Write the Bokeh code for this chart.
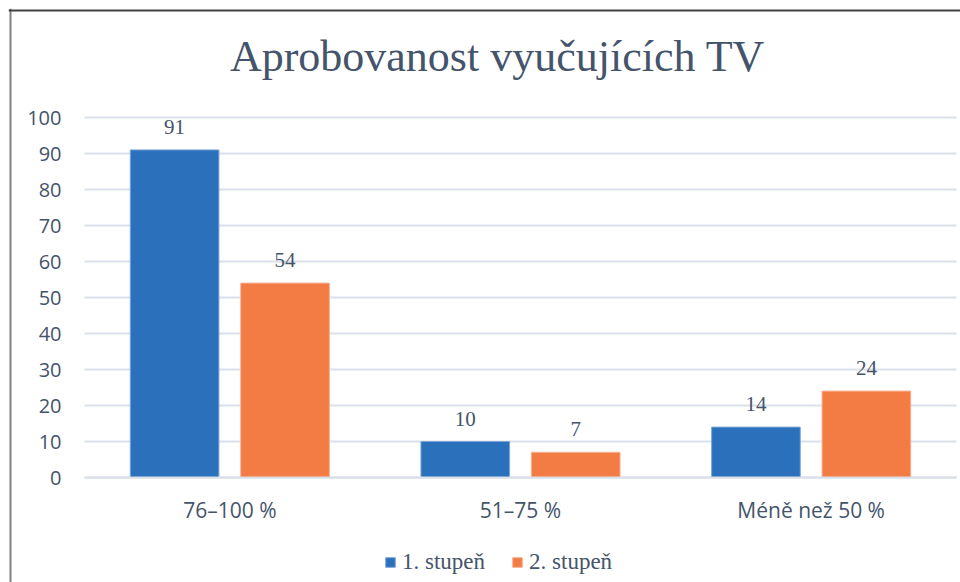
import numpy as np
from bokeh.plotting import figure
from bokeh.models import (ColumnDataSource, Range1d, FixedTicker, LabelSet, Label, Span,
                          Legend, LegendItem)
from bokeh.transform import dodge
from bokeh.core.properties import value
from bokeh.embed import file_html
from bokeh.resources import INLINE

# ---- data ----
title = "Aprobovanost vyučujících TV"
categories = ["76–100 %", "51–75 %", "Méně než 50 %"]
series_names = ["1. stupeň", "2. stupeň"]
stupen1 = [91, 10, 14]
stupen2 = [54, 7, 24]
y_ticks = [0, 10, 20, 30, 40, 50, 60, 70, 80, 90, 100]

# ---- layout constants (pixels) ----
W, H = 960, 582
FRAME_L, FRAME_T = 8, 8
PLOT_L, PLOT_R = 84, 956
Y0_PX, YTOP_PX = 477, 117
YMAX = y_ticks[-1]
n = len(categories)
xs = (PLOT_R - PLOT_L) / n
ys = (Y0_PX - YTOP_PX) / YMAX
px_x = lambda px: (px - PLOT_L) / xs
px_y = lambda py: (Y0_PX - py) / ys

BLUE = "#2a70bb"
ORANGE = "#f37c45"
TXT = "#44546a"
SERIF = "Liberation Serif"
SANS = "Open Sans"
GRID = "#d9e0e7"

pos = np.arange(n) + 0.5
src = ColumnDataSource(dict(x=pos, s1=stupen1, s2=stupen2,
                            l1=[str(v) for v in stupen1], l2=[str(v) for v in stupen2]))

p = figure(width=W, height=H,
           x_range=Range1d(px_x(FRAME_L), px_x(W)), y_range=Range1d(px_y(H), px_y(FRAME_T)),
           output_backend="svg", toolbar_location=None,
           min_border_left=FRAME_L, min_border_top=FRAME_T, min_border_right=0, min_border_bottom=0)

r1 = p.vbar(x=dodge("x", -0.19), top="s1", width=0.305, source=src,
            fill_color=BLUE, line_color="#7fa6d6", line_width=1)
r2 = p.vbar(x=dodge("x", 0.19), top="s2", width=0.305, source=src,
            fill_color=ORANGE, line_color="#f8b090", line_width=1)

for col, lab, off in (("s1", "l1", -0.19), ("s2", "l2", 0.19)):
    p.add_layout(LabelSet(x=dodge("x", off), y=col, text=lab, source=src,
                          text_align="center", text_baseline="alphabetic", y_offset=16,
                          text_font=value(SERIF), text_font_size="21px", text_color=TXT))

p.outline_line_color = None
p.background_fill_color = "white"
p.border_fill_color = "white"
p.xgrid.grid_line_color = None
p.ygrid.ticker = FixedTicker(ticks=y_ticks)
p.ygrid.grid_line_color = GRID
p.ygrid.grid_line_width = 2
if "cross_bounds" in p.ygrid[0].properties():
    p.ygrid.cross_bounds = (0, n)

p.yaxis.fixed_location = 0
p.yaxis.bounds = (0, YMAX)
p.yaxis.ticker = FixedTicker(ticks=y_ticks)
p.yaxis.axis_line_color = None
p.yaxis.major_tick_line_color = None
p.yaxis.minor_tick_line_color = None
p.yaxis.major_label_standoff = 17
p.yaxis.major_label_text_font = SANS
p.yaxis.major_label_text_font_size = "20px"
p.yaxis.major_label_text_color = TXT

p.xaxis.fixed_location = 0
p.xaxis.bounds = (0, n)
p.xaxis.ticker = FixedTicker(ticks=list(pos))
p.xaxis.major_label_overrides = {float(v): c for v, c in zip(pos, categories)}
p.xaxis.axis_line_color = GRID
p.xaxis.axis_line_width = 2
p.xaxis.major_tick_line_color = None
p.xaxis.minor_tick_line_color = None
p.xaxis.major_label_standoff = 12
p.xaxis.major_label_text_font = SANS
p.xaxis.major_label_text_font_size = "21px"
p.xaxis.major_label_text_color = TXT

# chart border (left and top edges visible)
p.add_layout(Span(location=px_x(10), dimension="height", line_color="#808080", line_width=2))
p.add_layout(Span(location=px_y(10), dimension="width", line_color="#404040", line_width=2))

p.add_layout(Label(x=px_x(497), y=px_y(56), text=title, text_align="center",
                   text_baseline="alphabetic", text_font=SERIF, text_font_size="44px",
                   text_color=TXT))

legend = Legend(items=[LegendItem(label=series_names[0], renderers=[r1]),
                       LegendItem(label=series_names[1], renderers=[r2])],
                orientation="horizontal", location=(376, 7), border_line_color=None,
                background_fill_alpha=0, label_text_font=SERIF, label_text_font_size="23px",
                label_text_color=TXT, glyph_width=12, glyph_height=12, label_standoff=6,
                spacing=26, margin=0, padding=0)
p.add_layout(legend)

open("out.html", "w").write(file_html(p, INLINE))
